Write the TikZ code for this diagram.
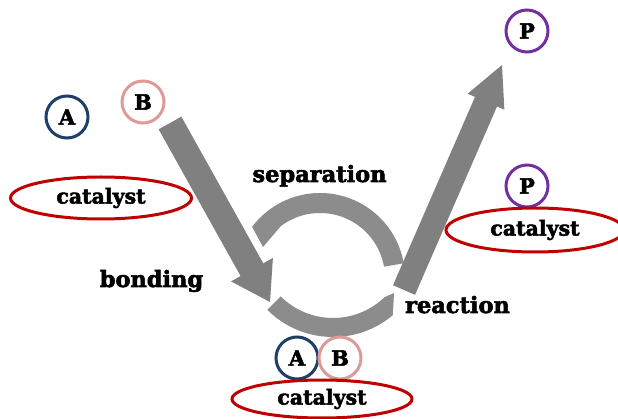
\documentclass[tikz,border=0pt]{standalone}
\usepackage{fontspec}
\setmainfont{DejaVu Serif}
\newfontfamily\heavy{DejaVu Serif Bold}[FakeBold=2.5]
\usetikzlibrary{calc,shapes.geometric}

\definecolor{ringA}{HTML}{1F3F66}
\definecolor{ringB}{HTML}{DE9A98}
\definecolor{ringP}{HTML}{7030A0}
\definecolor{ringCat}{HTML}{C00000}
\definecolor{fatgray}{HTML}{808080}
\definecolor{loopgray}{HTML}{8C8C8C}

% block arrow: tail, tip, shaft half width, head half width, head length
\newcommand{\fatarrow}[5]{%
  \path ($(#2)!#5!(#1)$) coordinate (fa-base);
  \fill[fatgray] ($(#1)!#3!90:(#2)$) -- ($(fa-base)!#3!90:(#2)$)
    -- ($(fa-base)!#4!90:(#2)$) -- (#2) -- ($(fa-base)!#4!-90:(#2)$)
    -- ($(fa-base)!#3!-90:(#2)$) -- ($(#1)!#3!-90:(#2)$) -- cycle;
}

\begin{document}
\begin{tikzpicture}[x=1pt,y=-1pt,
  ring/.style={circle,draw,line width=3pt,fill=white,minimum size=42pt,
    inner sep=0pt,font=\fontsize{21}{21}\heavy},
  catring/.style={ellipse,draw=ringCat,line width=3pt,inner sep=0pt,
    font=\fontsize{20.5}{20.5}\heavy},
  steptext/.style={anchor=base,inner sep=0pt,
    font=\fontsize{22.5}{22.5}\heavy}]

\clip (0,0) rectangle (618,419);

% the catalytic loop: two curved arrows
\coordinate (upc) at (320,278);
\coordinate (loc) at (333,244);
\coordinate (uphook) at (263,247);
\coordinate (lohook) at (394,293);
\fill[loopgray] ($(upc)+(-10:85)$) arc[start angle=-10,end angle=-143,radius=85]
  -- (uphook) -- ($(upc)+(-127:65)$) arc[start angle=-127,end angle=-10,radius=65] -- cycle;
\fill[loopgray] ($(loc)+(135:93)$) arc[start angle=135,end angle=50,radius=93]
  -- (lohook) -- ($(loc)+(46:74)$) arc[start angle=46,end angle=135,radius=74] -- cycle;

% reactants in, product out
\coordinate (in-tail) at (170,123);
\coordinate (in-tip) at (270,302);
\coordinate (out-tail) at (404,290);
\coordinate (out-tip) at (502,65);
\fatarrow{in-tail}{in-tip}{13pt}{24pt}{37pt}
\fatarrow{out-tail}{out-tip}{12pt}{20pt}{40pt}

% step labels
\node[steptext] (sep) at (319.5,182) {separation};
\node[steptext] (bond) at (151.5,287) {bonding};
\node[steptext] (react) at (457.5,313) {reaction};

% molecules
\node[ring,draw=ringA] (a1) at (67,117) {A};
\node[ring,draw=ringB] (b1) at (143,102) {B};
\node[ring,draw=ringA] (a2) at (297,358) {A};
\node[ring,draw=ringB] (b2) at (340,358) {B};
\node[ring,draw=ringP] (p1) at (527,31) {P};
\node[ring,draw=ringP] (p2) at (527,186) {P};

% catalyst
\node[catring,minimum width=181pt,minimum height=42pt] (cat1) at (101,198) {catalyst};
\node[catring,minimum width=180pt,minimum height=38pt] (cat2) at (322,399) {catalyst};
\node[catring,minimum width=178pt,minimum height=44pt] (cat3) at (535,230) {catalyst};
\end{tikzpicture}
\end{document}
